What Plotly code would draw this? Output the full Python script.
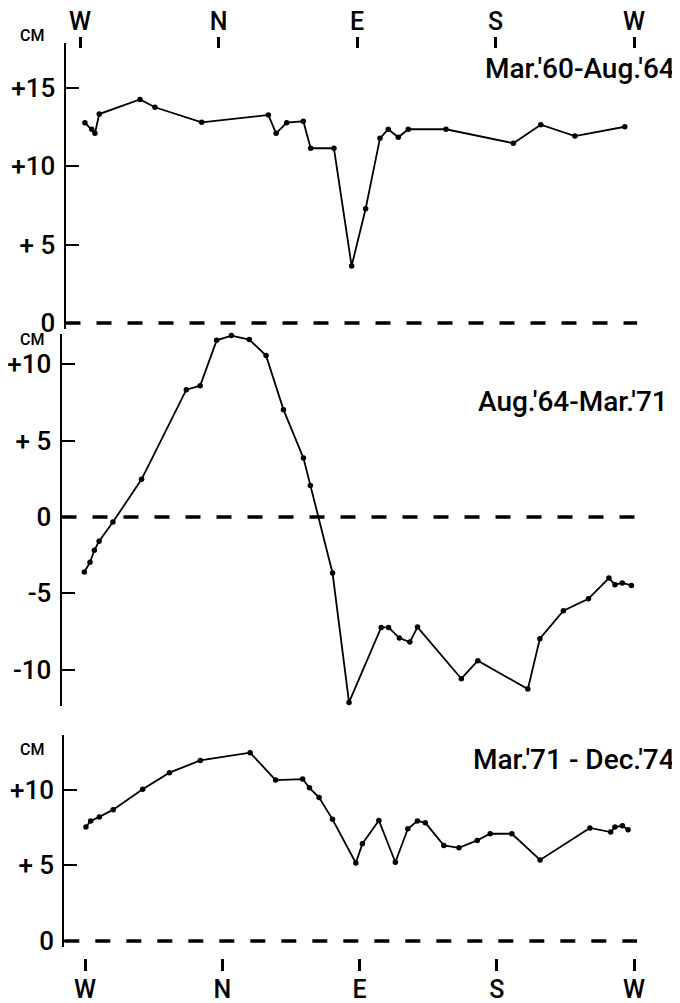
import plotly.graph_objects as go

# ---------------- data ----------------
DIRECTION_DEG = [0, 90, 180, 270, 360]
DIRECTION_LABELS = ["W", "N", "E", "S", "W"]

P1_TITLE = "Mar.'60-Aug.'64"
P1_DEG = [3.2, 7.6, 9.7, 12.5, 39.0, 48.7, 79.1, 122.4, 127.4, 134.3, 145.1, 149.9,
          165.0, 176.5, 185.6, 194.9, 200.3, 206.8, 213.3, 237.8, 281.6, 299.4, 321.6, 354.0]
P1_CM = [12.76, 12.34, 12.08, 13.31, 14.24, 13.74, 12.78, 13.25, 12.08, 12.76, 12.85, 11.13,
         11.13, 3.63, 7.28, 11.76, 12.34, 11.83, 12.34, 12.34, 11.45, 12.63, 11.91, 12.50]

P2_TITLE = "Aug.'64-Mar.'71"
P2_DEG = [2.8, 6.5, 9.3, 12.4, 21.4, 40.0, 69.1, 78.1, 88.8, 98.4, 110.0, 120.9, 132.2,
          145.2, 149.7, 164.1, 174.8, 195.7, 200.5, 207.5, 214.3, 219.3, 247.8, 258.5,
          291.0, 298.8, 314.1, 330.4, 343.7, 347.6, 352.4, 358.3]
P2_CM = [-3.60, -2.97, -2.18, -1.59, -0.33, 2.47, 8.34, 8.60, 11.57, 11.88, 11.62, 10.57,
         7.03, 3.86, 2.07, -3.67, -12.14, -7.23, -7.23, -7.93, -8.19, -7.21, -10.59, -9.41,
         -11.27, -7.97, -6.14, -5.35, -4.00, -4.43, -4.32, -4.48]

P3_TITLE = "Mar.'71 - Dec.'74"
P3_DEG = [0.6, 3.7, 9.4, 18.5, 37.8, 55.4, 75.6, 108.3, 125.0, 142.7, 147.2, 153.5, 162.3,
          177.6, 181.9, 192.7, 203.5, 211.7, 218.0, 223.1, 235.3, 245.2, 257.2, 265.7,
          279.9, 298.4, 331.1, 344.7, 347.5, 352.4, 356.1]
P3_CM = [7.52, 7.92, 8.19, 8.67, 10.02, 11.11, 11.92, 12.43, 10.62, 10.69, 10.11, 9.47, 8.03,
         5.15, 6.42, 7.96, 5.20, 7.41, 7.92, 7.81, 6.31, 6.15, 6.64, 7.08, 7.08, 5.35, 7.46,
         7.19, 7.52, 7.61, 7.35]

P1_TICKS = [0, 5, 10, 15]
P1_TICKTEXT = ["0", "+ 5", "+10", "+15"]
P2_TICKS = [-10, -5, 0, 5, 10]
P2_TICKTEXT = ["-10", "-5", "0", "+ 5", "+10"]
P3_TICKS = [0, 5, 10]
P3_TICKTEXT = ["0", "+ 5", "+10"]
UNIT = "CM"

# ---------------- layout geometry (page pixels) ----------------
PAGE_W, PAGE_H = 680, 1003
OFF = 8                      # default body margin of the html page
FW, FH = PAGE_W - OFF, PAGE_H - OFF
FONT = "Roboto"


def py(px):
    return 1 - (px - OFF) / FH


def px_x(px):
    return (px - OFF) / FW


fig = go.Figure()

line_style = dict(color="black", width=1.8)
marker_style = dict(color="black", size=5.5)

fig.add_trace(go.Scatter(x=P1_DEG, y=P1_CM, mode="lines+markers", line=line_style,
                         marker=marker_style, xaxis="x", yaxis="y", cliponaxis=False,
                         showlegend=False, hoverinfo="skip"))
fig.add_trace(go.Scatter(x=P2_DEG, y=P2_CM, mode="lines+markers", line=line_style,
                         marker=marker_style, xaxis="x2", yaxis="y2", cliponaxis=False,
                         showlegend=False, hoverinfo="skip"))
fig.add_trace(go.Scatter(x=P3_DEG, y=P3_CM, mode="lines+markers", line=line_style,
                         marker=marker_style, xaxis="x3", yaxis="y3", cliponaxis=False,
                         showlegend=False, hoverinfo="skip"))
# invisible helpers so the direction axes (top / bottom) are drawn
fig.add_trace(go.Scatter(x=DIRECTION_DEG, y=[0] * 5, mode="markers", marker=dict(opacity=0),
                         xaxis="x4", yaxis="y", showlegend=False, hoverinfo="skip"))
fig.add_trace(go.Scatter(x=DIRECTION_DEG, y=[0] * 5, mode="markers", marker=dict(opacity=0),
                         xaxis="x5", yaxis="y3", showlegend=False, hoverinfo="skip"))

tickfont = dict(family=FONT, size=26, color="black", weight=500)
dirfont = dict(family=FONT, size=25, color="black", weight=500)

yax_common = dict(showline=True, linecolor="black", linewidth=2, ticks="inside",
                  ticklen=13, tickwidth=2, tickcolor="black", showgrid=False,
                  zeroline=False, tickfont=tickfont, ticklabelstandoff=3,
                  automargin=False, fixedrange=True)
xhid = dict(visible=False, showgrid=False, zeroline=False, automargin=False, fixedrange=True)

# x mappings: panels 1-2: px = 80 + 1.539*deg ; panel 3: px = 85 + 1.525*deg
X12_RANGE1 = [(65.5 - 80) / 1.539, (680 - 80) / 1.539]
X12_RANGE2 = [(61.5 - 80) / 1.539, (680 - 80) / 1.539]
X3_RANGE = [(64.3 - 85) / 1.525, (680 - 85) / 1.525]

dir_axis = dict(tickmode="array", tickvals=DIRECTION_DEG, ticktext=DIRECTION_LABELS,
                ticks="outside", tickwidth=3, tickcolor="black", showline=False,
                showgrid=False, zeroline=False, tickfont=dirfont, automargin=False,
                fixedrange=True, anchor="free")

fig.update_layout(
    width=FW, height=FH,
    margin=dict(l=0, r=0, t=0, b=0),
    paper_bgcolor="white", plot_bgcolor="rgba(0,0,0,0)",
    showlegend=False,
    xaxis=dict(domain=[px_x(65.5), 1], range=X12_RANGE1, anchor="y", **xhid),
    xaxis2=dict(domain=[px_x(61.5), 1], range=X12_RANGE2, anchor="y2", **xhid),
    xaxis3=dict(domain=[px_x(64.3), 1], range=X3_RANGE, anchor="y3", **xhid),
    xaxis4=dict(overlaying="x", domain=[px_x(65.5), 1], range=X12_RANGE1, side="top",
                position=py(48), ticklen=11, ticklabelstandoff=-3, **dir_axis),
    xaxis5=dict(overlaying="x3", domain=[px_x(64.3), 1], range=X3_RANGE, side="bottom",
                position=py(958), ticklen=12, ticklabelstandoff=-3, **dir_axis),
    yaxis=dict(domain=[py(329), py(42.7)], range=[(323 - 329) / 15.7, (323 - 42.7) / 15.7],
               anchor="x", tickmode="array", tickvals=P1_TICKS, ticktext=P1_TICKTEXT,
               **yax_common),
    yaxis2=dict(domain=[py(706), py(334)], range=[(517 - 706) / 15.27, (517 - 334) / 15.27],
                anchor="x2", tickmode="array", tickvals=P2_TICKS, ticktext=P2_TICKTEXT,
                **yax_common),
    yaxis3=dict(domain=[py(946.7), py(735)], range=[(941 - 946.7) / 15.15, (941 - 735) / 15.15],
                anchor="x3", tickmode="array", tickvals=P3_TICKS, ticktext=P3_TICKTEXT,
                **yax_common),
)

# dashed zero reference lines
dash = dict(color="black", width=3.3, dash="15px,16px")
for xr, yr, x0 in (("x", "y", X12_RANGE1[0]), ("x2", "y2", X12_RANGE2[0]), ("x3", "y3", X3_RANGE[0])):
    fig.add_shape(type="line", xref=xr, yref=yr, x0=x0, x1=362, y0=0, y1=0, line=dash)

# unit labels and period titles
for ycen in (36, 340, 749):
    fig.add_annotation(text=UNIT, xref="paper", yref="paper", x=px_x(32), y=py(ycen),
                       xanchor="center", yanchor="middle", showarrow=False,
                       font=dict(family=FONT, size=16, color="black", weight=500))
for title, xr, ycen in ((P1_TITLE, 677, 68), (P2_TITLE, 670, 401), (P3_TITLE, 677, 759)):
    fig.add_annotation(text=title, xref="paper", yref="paper", x=px_x(xr), y=py(ycen),
                       xanchor="right", yanchor="middle", showarrow=False,
                       font=dict(family=FONT, size=28, color="black", weight=500))

fig.write_html("out.html")
